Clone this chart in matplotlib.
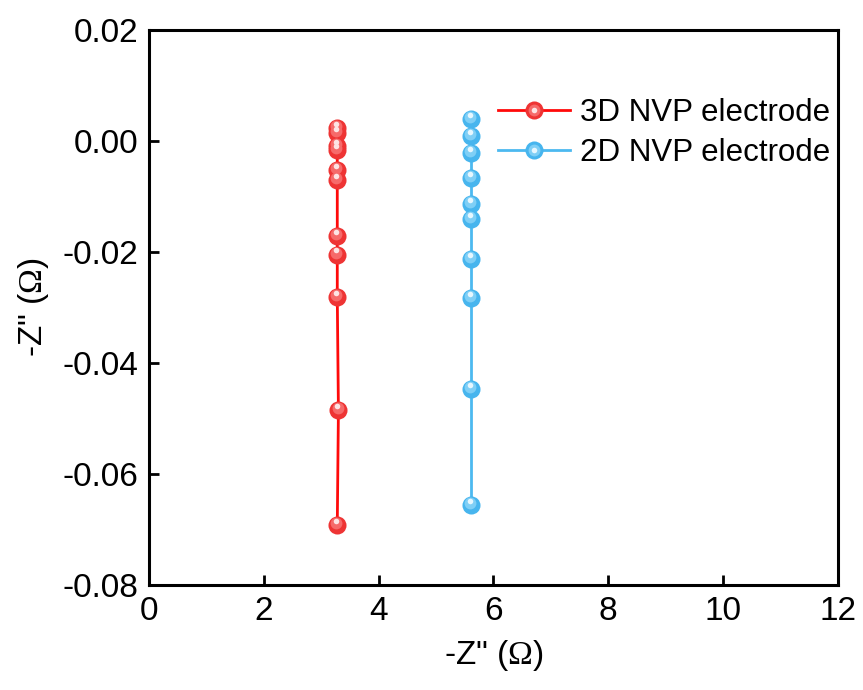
import numpy as np
import matplotlib
matplotlib.use("Agg")
import matplotlib.pyplot as plt
import matplotlib.transforms as mtransforms
from matplotlib.legend_handler import HandlerTuple

plt.rcParams['font.family'] = ['Liberation Sans', 'DejaVu Sans']
plt.rcParams['mathtext.fontset'] = 'custom'
plt.rcParams['mathtext.rm'] = 'Liberation Serif'

# 3D NVP electrode
x_3d = [3.28, 3.28, 3.28, 3.28, 3.28, 3.28, 3.28, 3.28, 3.28, 3.30, 3.28]
y_3d = [0.0023, 0.0014, -0.0009, -0.0016, -0.0052, -0.0070, -0.0171,
        -0.0205, -0.0281, -0.0485, -0.0692]
# 2D NVP electrode
x_2d = [5.61, 5.61, 5.61, 5.61, 5.61, 5.61, 5.61, 5.61, 5.61, 5.61]
y_2d = [0.0040, 0.0009, -0.0022, -0.0067, -0.0114, -0.0141, -0.0213,
        -0.0283, -0.0447, -0.0656]

fs = 24

fig = plt.figure(figsize=(8.63, 6.9), dpi=100)
ax = fig.add_axes([0.1727, 0.152, 0.798, 0.8043])

hl = mtransforms.offset_copy(ax.transData, fig=fig, x=-0.6, y=1.7, units='points')
hl2 = mtransforms.offset_copy(ax.transData, fig=fig, x=-0.8, y=3.2, units='points')


def sphere(x, y, line_c, base, mid, light, label):
    ln, = ax.plot(x, y, '-', color=line_c, lw=2.0, marker='o', ms=13,
                  mfc=base, mec=base, mew=0, label=label, zorder=3)
    ax.plot(x, y, 'o', ms=8.5, color=mid, mew=0, transform=hl, zorder=4)
    ax.plot(x, y, 'o', ms=4, color=light, mew=0, transform=hl2, zorder=5)
    h1, = ax.plot([], [], 'o', ms=8.5, color=mid, mew=0)
    h2, = ax.plot([], [], 'o', ms=4, color=light, mew=0)
    return (ln, h1, h2)


r = sphere(x_3d, y_3d, '#ff0a0a', '#ee3434', '#f66a6a', '#fde4e4', '3D NVP electrode')
b = sphere(x_2d, y_2d, '#4cb9f0', '#47b5ee', '#7fcff6', '#e6f7ff', '2D NVP electrode')

ax.set_xlim(0, 12)
ax.set_ylim(-0.08, 0.02)
ax.set_xticks(np.arange(0, 13, 2))
ax.set_yticks(np.arange(-0.08, 0.021, 0.02))
ax.yaxis.set_major_formatter(plt.FuncFormatter(lambda v, p: '%.2f' % v))

for s in ax.spines.values():
    s.set_linewidth(2.2)
ax.tick_params(direction='in', length=7, width=2, labelsize=fs, pad=8)

ax.set_xlabel('-Z" ($\\mathrm{\\Omega}$)', fontsize=fs, labelpad=8)
ax.set_ylabel('-Z" ($\\mathrm{\\Omega}$)', fontsize=fs, labelpad=8)

ax.legend([r, b], ['3D NVP electrode', '2D NVP electrode'],
          handler_map={tuple: HandlerTuple(ndivide=1)},
          loc='upper left', bbox_to_anchor=(0.489, 0.9), frameon=False,
          fontsize=22.5, handlelength=2.3, handletextpad=0.3,
          labelspacing=0.32, borderaxespad=0, numpoints=1)

fig.savefig('out.png', dpi=100, facecolor='white')
